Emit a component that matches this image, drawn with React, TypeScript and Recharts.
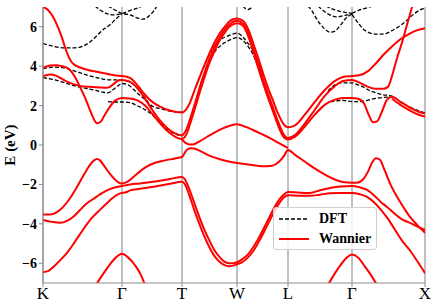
import { CartesianGrid, Legend, Line, LineChart, XAxis, YAxis } from "recharts";

type Pt = [number, number];

const SERIF = "Liberation Serif, Times New Roman, Tinos, DejaVu Serif, serif";

// k-path positions of the high-symmetry points and their labels
const kTicks = [0, 79, 139, 194, 245, 309, 382];
const kLabels = ["K", "Γ", "T", "W", "L", "Γ", "X"];
const eTicks = [-6, -4, -2, 0, 2, 4, 6];

// Wannier-interpolated bands, [k, E (eV)]
const wanA: Pt[] = [
  [0, 7.0], [5, 6.85], [10, 6.5], [15, 5.97], [19, 5.45], [22, 4.96], [25, 4.55], [28, 4.25], [32, 4.05], [37, 3.93],
  [47, 3.78], [57, 3.68], [67, 3.58], [73, 3.52], [79, 3.5],
  [87, 3.4], [95, 3.0], [102, 2.55], [109, 2.2], [117, 1.95], [127, 1.75], [139, 1.65],
  [143, 1.8], [147, 2.15], [151, 2.7], [156, 3.35], [161, 4.0], [166, 4.6], [171, 5.15], [176, 5.6], [181, 5.95],
  [186, 6.25], [190, 6.38], [194, 6.42],
  [200, 6.3], [205, 5.9], [210, 5.2], [215, 4.45], [220, 3.65], [225, 2.9], [230, 2.25], [235, 1.6], [240, 1.1], [245, 0.9],
  [252, 1.0], [262, 1.55], [272, 2.2], [282, 2.8], [292, 3.25], [300, 3.45], [309, 3.5],
  [317, 3.55], [325, 3.75], [333, 4.15], [341, 4.6], [349, 5.0], [357, 5.35], [365, 5.6], [373, 5.8], [382, 5.92],
];
const wanB: Pt[] = [
  [0, 3.92], [7, 4.03], [13, 4.05], [19, 4.0], [24, 3.92], [28, 3.75], [32, 3.45], [37, 2.95], [42, 2.4], [46, 1.9],
  [50, 1.4], [54, 1.1], [58, 1.2], [62, 1.55], [67, 1.95], [72, 2.25], [76, 2.35], [79, 2.38],
  [87, 2.36], [95, 2.25], [102, 2.0], [109, 1.6], [117, 1.1], [127, 0.6], [139, 0.3],
  [143, 0.5], [147, 1.05], [151, 1.7], [156, 2.55], [161, 3.35], [166, 4.1], [171, 4.7], [176, 5.25], [181, 5.65],
  [186, 5.98], [190, 6.12], [194, 6.18],
  [200, 6.05], [205, 5.55], [210, 4.8], [215, 3.95], [220, 3.15], [225, 2.4], [230, 1.7], [235, 1.0], [240, 0.45], [245, 0.28],
  [252, 0.42], [262, 0.95], [272, 1.55], [282, 2.05], [292, 2.3], [300, 2.38], [309, 2.38],
  [315, 2.35], [321, 2.1], [326, 1.5], [330, 1.15], [334, 1.2], [339, 1.7], [344, 2.3], [349, 2.45], [357, 2.2],
  [367, 1.9], [375, 1.7], [382, 1.6],
];
const wanC: Pt[] = [
  [0, 3.5], [7, 3.58], [13, 3.52], [19, 3.35], [27, 3.15], [37, 3.0], [47, 2.95], [57, 2.92], [63, 2.9], [67, 2.95],
  [72, 3.15], [76, 3.28], [79, 3.3],
  [87, 3.2], [95, 2.85], [102, 2.35], [109, 1.8], [117, 1.25], [127, 0.75], [139, 0.5],
  [143, 0.75], [147, 1.3], [151, 1.95], [156, 2.8], [161, 3.6], [166, 4.3], [171, 4.9], [176, 5.4], [181, 5.8],
  [186, 6.1], [190, 6.25], [194, 6.3],
  [200, 6.15], [205, 5.7], [210, 4.95], [215, 4.15], [220, 3.35], [225, 2.6], [230, 1.9], [235, 1.2], [240, 0.6], [245, 0.35],
  [252, 0.5], [262, 1.1], [272, 1.8], [282, 2.5], [292, 3.0], [300, 3.25], [309, 3.3],
  [317, 3.15], [325, 2.95], [333, 2.85], [340, 2.85], [345, 2.95], [349, 3.5], [354, 4.4], [359, 5.2], [364, 6.1],
  [369, 7.0], [371, 7.4],
];
const wanX2: Pt[] = [[349, 2.35], [357, 2.05], [367, 1.75], [375, 1.55], [382, 1.45]];
const wanV: Pt[] = [
  [139, 0.27], [143, 0.1], [147, 0.02], [151, 0.04], [157, 0.2], [167, 0.5], [177, 0.78], [187, 0.98], [194, 1.05],
  [202, 0.93], [210, 0.76], [219, 0.55], [227, 0.35], [235, 0.12], [245, -0.15],
];
const wanP: Pt[] = [
  [0, -3.52], [7, -3.52], [14, -3.4], [20, -3.15], [27, -2.7], [34, -2.13], [41, -1.5], [47, -1.01], [51, -0.78],
  [54, -0.71], [57, -0.78], [61, -1.05], [66, -1.4], [71, -1.7], [75, -1.88], [79, -1.95],
  [85, -1.85], [92, -1.55], [102, -1.15], [112, -0.9], [122, -0.78], [132, -0.68], [139, -0.6],
  [143, -0.3], [147, -0.17], [151, -0.18], [157, -0.3], [167, -0.55], [177, -0.72], [187, -0.85], [194, -0.91],
  [207, -1.0], [219, -1.08], [229, -1.05], [236, -0.85], [241, -0.55], [245, -0.25],
  [252, -0.5], [262, -0.85], [272, -1.2], [282, -1.5], [292, -1.75], [300, -1.88], [309, -1.92],
  [315, -1.9], [320, -1.75], [325, -1.35], [329, -0.9], [333, -0.67], [337, -0.75], [341, -1.2], [347, -1.95],
  [354, -2.63], [361, -3.2], [367, -3.65], [375, -4.1], [382, -4.45],
];
const wanQ: Pt[] = [
  [0, -3.8], [9, -3.9], [17, -3.95], [24, -3.85], [30, -3.65], [37, -3.3], [44, -2.95], [50, -2.75], [57, -2.5],
  [64, -2.3], [70, -2.18], [79, -2.08],
  [87, -2.0], [97, -1.95], [112, -1.85], [127, -1.72], [139, -1.62],
  [142, -1.75], [146, -2.2], [151, -2.9], [156, -3.6], [161, -4.25], [166, -4.8], [171, -5.3], [176, -5.65],
  [181, -5.9], [186, -6.0], [190, -6.0], [194, -5.95],
  [199, -5.8], [204, -5.6], [210, -5.2], [217, -4.6], [224, -3.9], [230, -3.3], [235, -2.85], [240, -2.55], [245, -2.38],
  [257, -2.42], [267, -2.43], [277, -2.3], [287, -2.18], [297, -2.1], [309, -2.08],
  [317, -2.15], [324, -2.28], [332, -2.6], [338, -2.9], [344, -3.14], [352, -3.5], [360, -3.8], [367, -3.95],
  [375, -4.15], [382, -4.3],
];
const wanR: Pt[] = [
  [0, -6.45], [5, -6.4], [10, -6.2], [17, -5.85], [24, -5.47], [32, -4.9], [40, -4.3], [48, -3.75], [57, -3.29],
  [65, -2.9], [74, -2.53], [79, -2.43],
  [83, -2.4], [87, -2.3], [97, -2.22], [112, -2.1], [127, -1.97], [139, -1.87],
  [142, -2.0], [146, -2.5], [151, -3.25], [156, -3.95], [161, -4.6], [166, -5.15], [171, -5.6], [176, -5.9],
  [181, -6.08], [186, -6.15], [190, -6.12], [194, -6.05],
  [199, -5.95], [204, -5.75], [210, -5.4], [217, -4.8], [224, -4.1], [230, -3.5], [235, -3.05], [240, -2.7], [245, -2.55],
  [257, -2.58], [267, -2.58], [277, -2.52], [287, -2.45], [297, -2.43], [309, -2.43],
  [317, -2.5], [324, -2.63], [332, -2.95], [339, -3.35], [345, -3.75], [352, -4.3], [359, -4.85], [367, -5.35],
  [375, -5.95], [382, -6.5],
];
const wanS1: Pt[] = [[53, -7.1], [60, -6.55], [67, -6.05], [73, -5.7], [79, -5.52], [85, -5.7], [92, -6.1], [98, -6.6], [102, -7.1]];
const wanS2: Pt[] = [[285, -7.1], [292, -6.5], [298, -6.05], [304, -5.7], [309, -5.55], [315, -5.7], [321, -6.1], [328, -6.6], [334, -7.1]];

// DFT bands, [k, E (eV)]
const dft1: Pt[] = [
  [0, 5.15], [7, 5.05], [14, 4.97], [22, 4.93], [30, 4.93], [37, 4.97], [45, 5.15], [52, 5.45], [60, 5.85],
  [67, 6.1], [73, 6.4], [79, 6.67],
];
const dftG1: Pt[] = [[52, 7.05], [57, 6.85], [63, 6.68], [70, 6.6], [79, 6.67], [87, 6.82], [95, 6.95], [99, 7.05]];
const dftG2: Pt[] = [[65, 7.05], [72, 6.85], [79, 6.67], [87, 6.6], [94, 6.45], [100, 6.38], [105, 6.5], [110, 6.75], [114, 7.05]];
const dft2: Pt[] = [
  [0, 3.88], [12, 3.95], [22, 3.9], [32, 3.75], [44, 3.55], [57, 3.38], [67, 3.3], [79, 3.3], [87, 3.2], [95, 2.85],
  [102, 2.4], [109, 1.85],
];
const dft3: Pt[] = [
  [0, 3.42], [12, 3.3], [22, 3.15], [32, 3.0], [42, 2.88], [52, 2.78], [60, 2.68], [65, 2.65], [70, 2.8], [75, 3.0],
  [79, 3.12], [85, 3.05], [91, 2.8], [95, 2.6], [100, 2.4], [105, 2.15], [110, 1.95], [117, 1.85], [127, 1.72], [139, 1.65],
];
const dft4: Pt[] = [[65, 2.2], [72, 2.18], [79, 2.18], [87, 2.15], [94, 2.0], [100, 1.85], [107, 1.62], [117, 1.15], [127, 0.7], [139, 0.45]];
const dftTW1: Pt[] = [
  [153, 3.0], [157, 3.5], [162, 4.1], [167, 4.66], [172, 5.05], [177, 5.32], [187, 5.57], [194, 5.67], [200, 5.47],
  [205, 5.15], [210, 4.81], [215, 4.2], [220, 3.5],
];
const dftTW2: Pt[] = [
  [157, 3.0], [162, 3.7], [167, 4.3], [172, 4.75], [179, 5.1], [187, 5.33], [194, 5.45], [200, 5.3], [205, 5.0],
  [210, 4.6], [215, 3.95], [220, 3.2],
];
const dftW: Pt[] = [[200, 7.05], [203, 6.9], [205, 6.87], [208, 6.95], [211, 7.08]];
const dftT1: Pt[] = [[265, 7.05], [269, 6.8], [273, 6.45], [277, 6.15], [282, 5.88], [287, 5.72], [292, 5.78], [297, 6.05], [302, 6.38], [309, 6.65]];
const dftT2: Pt[] = [[275, 7.05], [282, 6.75], [289, 6.55], [295, 6.5], [302, 6.58], [309, 6.65]];
const dftT3: Pt[] = [[283, 7.05], [289, 6.9], [297, 6.78], [303, 6.72], [309, 6.68]];
const dftT4: Pt[] = [
  [309, 6.62], [315, 6.2], [321, 5.85], [327, 5.68], [334, 5.62], [342, 5.65], [349, 5.8], [357, 6.05], [364, 6.33],
  [371, 6.65], [377, 6.85], [382, 6.95],
];
const dftT5: Pt[] = [[309, 6.68], [315, 6.82], [322, 6.93], [330, 7.05]];
const dftG2a: Pt[] = [[282, 2.05], [290, 2.22], [300, 2.26], [309, 2.2], [315, 2.2], [320, 2.22], [327, 2.3], [335, 2.38], [345, 2.43]];
const dftG2b: Pt[] = [
  [285, 2.75], [292, 3.05], [300, 3.15], [309, 3.15], [315, 3.05], [320, 2.95], [327, 2.75], [334, 2.63], [340, 2.55],
  [347, 2.5], [352, 2.4], [357, 2.2], [367, 1.92], [375, 1.75], [382, 1.62],
];

const wannierBands = [wanA, wanB, wanC, wanX2, wanV, wanP, wanQ, wanR, wanS1, wanS2];
const dftBands = [dft1, dftG1, dftG2, dft2, dft3, dft4, dftTW1, dftTW2, dftW, dftT1, dftT2, dftT3, dftT4, dftT5, dftG2a, dftG2b];

const toRows = (band: Pt[]) => band.map(([k, e]) => ({ k, e }));
const fmtE = (v: number) => (v < 0 ? `\u2212${Math.abs(v)}` : `${v}`);

const FRAME = "#8c8c8c";

function BandLegend() {
  const row = { display: "flex", alignItems: "center", height: 20 } as const;
  return (
    <div
      style={{
        boxSizing: "border-box",
        width: 104,
        height: 43,
        padding: "1px 0 0 5px",
        border: "1px solid #cfcfcf",
        borderRadius: 3,
        background: "rgba(255,255,255,0.8)",
        fontFamily: SERIF,
        fontWeight: "bold",
        fontSize: 14,
        color: "#000",
      }}
    >
      <div style={row}>
        <svg width={30} height={4}>
          <line x1={0} y1={2} x2={30} y2={2} stroke="#000" strokeWidth={1.3} strokeDasharray="4 2" />
        </svg>
        <span style={{ marginLeft: 10 }}>DFT</span>
      </div>
      <div style={row}>
        <svg width={30} height={4}>
          <line x1={0} y1={2} x2={30} y2={2} stroke="#ff0000" strokeWidth={2} />
        </svg>
        <span style={{ marginLeft: 10 }}>Wannier</span>
      </div>
    </div>
  );
}

export default function App() {
  return (
    <div style={{ position: "absolute", left: 0, top: 0, width: 436, height: 308, background: "#fff", fontFamily: SERIF }}>
      <LineChart width={436} height={308} margin={{ top: 7, right: 11, bottom: 0, left: 0 }} style={{ fontFamily: SERIF }}>
        <CartesianGrid horizontal={false} stroke="#ababab" strokeWidth={1.5} />
        <XAxis
          dataKey="k"
          type="number"
          domain={[0, 382]}
          ticks={kTicks}
          allowDataOverflow
          tickFormatter={(v: number) => kLabels[kTicks.indexOf(v)] ?? ""}
          height={25}
          tickSize={4}
          tickMargin={0}
          stroke={FRAME}
          tick={{ fill: "#000", fontSize: 17, fontFamily: SERIF }}
        />
        <XAxis xAxisId="top" orientation="top" type="number" domain={[0, 382]} height={0} tick={false} tickLine={false} stroke={FRAME} />
        <YAxis
          type="number"
          domain={[-7, 7]}
          ticks={eTicks}
          allowDataOverflow
          width={43}
          tickSize={4}
          tickMargin={2}
          stroke={FRAME}
          tickFormatter={fmtE}
          tick={{ fill: "#000", fontSize: 14, fontWeight: "bold", fontFamily: SERIF }}
          label={{
            content: () => (
              <text
                x={15}
                y={145}
                transform="rotate(-90 15 145)"
                textAnchor="middle"
                fill="#000"
                fontFamily={SERIF}
                fontWeight="bold"
                fontSize={15}
              >
                E (eV)
              </text>
            ),
          }}
        />
        <YAxis yAxisId="right" orientation="right" type="number" domain={[-7, 7]} width={0} tick={false} tickLine={false} stroke={FRAME} />
        {dftBands.map((band, i) => (
          <Line
            key={`dft-${i}`}
            data={toRows(band)}
            dataKey="e"
            type="monotone"
            stroke="#000"
            strokeWidth={1.3}
            strokeDasharray="4 2"
            dot={false}
            activeDot={false}
            legendType="none"
            isAnimationActive={false}
          />
        ))}
        {wannierBands.map((band, i) => (
          <Line
            key={`wan-${i}`}
            data={toRows(band)}
            dataKey="e"
            type="monotone"
            stroke="#ff0000"
            strokeWidth={2}
            dot={false}
            activeDot={false}
            legendType="none"
            isAnimationActive={false}
          />
        ))}
        <Legend
          layout="vertical"
          align="center"
          verticalAlign="middle"
          content={() => <BandLegend />}
          wrapperStyle={{ left: 273, top: 207, width: 104, height: 43 }}
        />
      </LineChart>
    </div>
  );
}
